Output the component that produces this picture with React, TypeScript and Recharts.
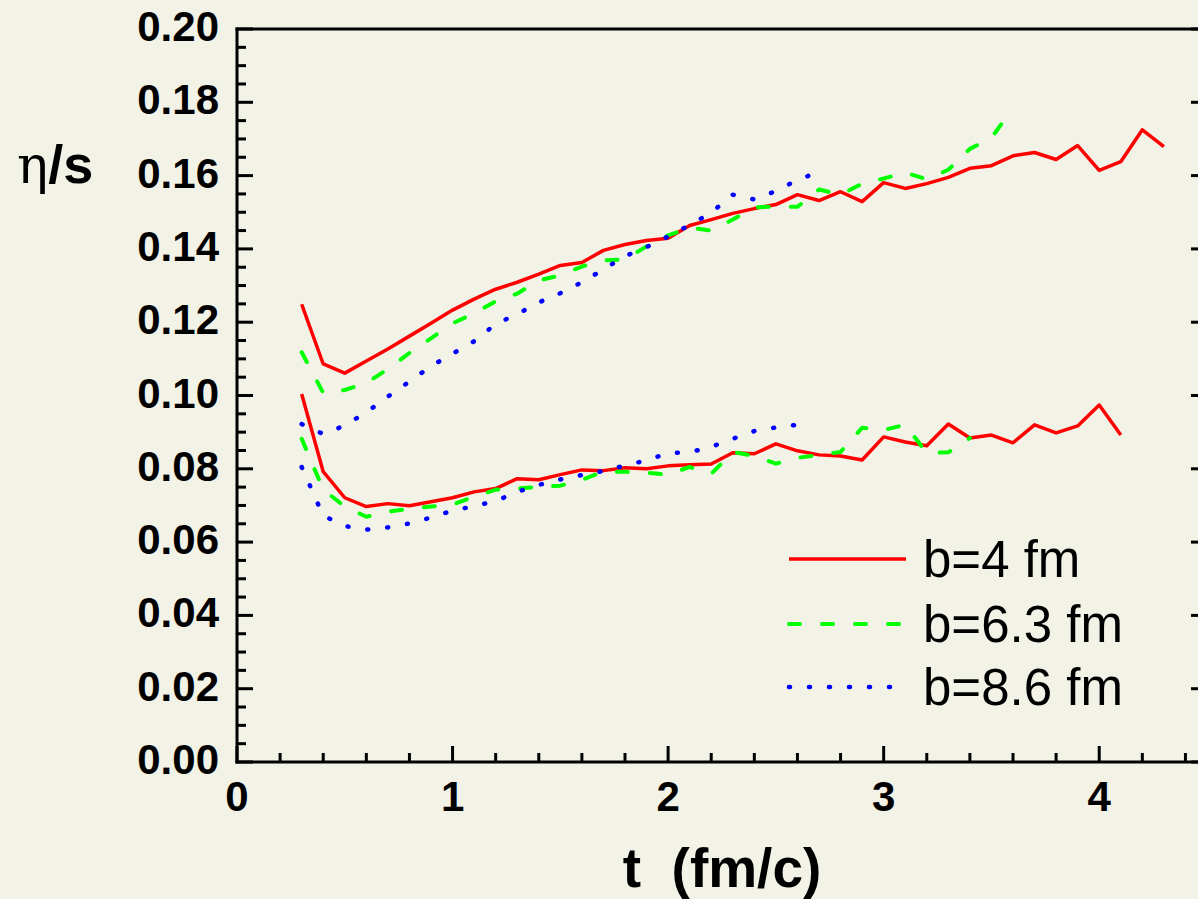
import React from 'react';
import { LineChart, Line, XAxis, YAxis } from 'recharts';

const BG = '#F2F2E6';
const SANS = '"Liberation Sans", Arial, Helvetica, sans-serif';

// time grid, fm/c
const times = [
  0.3, 0.4, 0.5, 0.6, 0.7, 0.8, 0.9, 1.0, 1.1, 1.2, 1.3, 1.4, 1.5, 1.6, 1.7, 1.8, 1.9, 2.0, 2.1, 2.2, 2.3,
  2.4, 2.5, 2.6, 2.7, 2.8, 2.9, 3.0, 3.1, 3.2, 3.3, 3.4, 3.5, 3.6, 3.7, 3.8, 3.9, 4.0, 4.1, 4.2, 4.3,
];

// b=4 fm
const redUpper = [
  0.1249, 0.1086, 0.1061, 0.1094, 0.1127, 0.1162, 0.1197, 0.1233, 0.1263, 0.129, 0.1309, 0.1331, 0.1355, 0.1363,
  0.1396, 0.1412, 0.1423, 0.1429, 0.1464, 0.148, 0.1497, 0.151, 0.1521, 0.1548, 0.1532, 0.1556, 0.1529, 0.1581,
  0.1565, 0.1578, 0.1595, 0.162, 0.1627, 0.1654, 0.1663, 0.1644, 0.1682, 0.1614, 0.1638, 0.1725, 0.1679,
];
const redLower = [
  0.1004, 0.0792, 0.0721, 0.0697, 0.0705, 0.0699, 0.071, 0.0721, 0.0737, 0.0746, 0.0773, 0.077, 0.0784, 0.0797,
  0.0795, 0.0803, 0.08, 0.0808, 0.0811, 0.0813, 0.0844, 0.0841, 0.0868, 0.0849, 0.0838, 0.0835, 0.0824, 0.0887,
  0.0873, 0.0863, 0.0922, 0.0884, 0.0892, 0.0871, 0.092, 0.0898, 0.0917, 0.0974, 0.0892,
];

// b=6.3 fm
const greenUpper = [
  0.1118, 0.1007, 0.1015, 0.1034, 0.1072, 0.1116, 0.1156, 0.1197, 0.1224, 0.1257, 0.1278, 0.1314, 0.1328, 0.1352,
  0.1369, 0.1371, 0.1407, 0.1437, 0.1458, 0.145, 0.148, 0.1513, 0.1516, 0.1515, 0.1562, 0.1548, 0.1578, 0.1592,
  0.1608, 0.159, 0.1616, 0.1673, 0.1703, 0.1785,
];
const greenLower = [
  0.0882, 0.0743, 0.0697, 0.0669, 0.0683, 0.0691, 0.0697, 0.0702, 0.0724, 0.0743, 0.0746, 0.0751, 0.0754, 0.077,
  0.0792, 0.0792, 0.0789, 0.0784, 0.0805, 0.0786, 0.0846, 0.0835, 0.0814, 0.083, 0.0838, 0.0846, 0.0912, 0.0906,
  0.092, 0.0843, 0.0845, 0.0884,
];

// b=8.6 fm
const blueUpper = [
  0.0922, 0.0895, 0.0918, 0.0954, 0.0997, 0.1038, 0.108, 0.1114, 0.1148, 0.1195, 0.1222, 0.1254, 0.1279, 0.1309,
  0.1344, 0.138, 0.1405, 0.1434, 0.1465, 0.1499, 0.1548, 0.1535, 0.1558, 0.1588, 0.161,
];
const blueLower = [
  0.0805, 0.0672, 0.0644, 0.0634, 0.064, 0.0651, 0.0667, 0.0686, 0.0698, 0.0712, 0.0737, 0.0756, 0.0771, 0.0783,
  0.0794, 0.0809, 0.0823, 0.0843, 0.0845, 0.086, 0.0882, 0.0903, 0.0913, 0.092,
];

const legendLabels = ['b=4 fm', 'b=6.3 fm', 'b=8.6 fm'];

// axis ticks (every 0.2 on t, every 0.005 on eta/s; labels only on majors)
const xTicks = Array.from({ length: 23 }, (_, i) => +(i * 0.2).toFixed(1));
const yTicks = Array.from({ length: 41 }, (_, i) => +(i * 0.005).toFixed(3));
const isMajorX = (v: number) => Math.abs(v - Math.round(v)) < 1e-6;
const isMajorY = (v: number) => Math.abs(v * 50 - Math.round(v * 50)) < 1e-6;

const toPoints = (vals: number[]) => vals.map((v, i) => ({ t: times[i], v }));

const TW = 3;
const MAJ = 16;
const MIN = 9;

function BottomTick(props: any) {
  const { x, y, payload } = props;
  const major = isMajorX(payload.value);
  return (
    <g>
      <line x1={x} x2={x} y1={y} y2={y - (major ? MAJ : MIN)} stroke="#000" strokeWidth={TW} />
      {major && (
        <text x={x} y={y + 49} textAnchor="middle" fontFamily={SANS} fontWeight="bold" fontSize={42} fill="#000">
          {payload.value}
        </text>
      )}
    </g>
  );
}

function TopTick(props: any) {
  const { x, y, payload } = props;
  const major = isMajorX(payload.value);
  return <line x1={x} x2={x} y1={y} y2={y + (major ? MAJ : MIN)} stroke="#000" strokeWidth={TW} />;
}

function LeftTick(props: any) {
  const { x, y, payload } = props;
  const major = isMajorY(payload.value);
  return (
    <g>
      <line x1={x} x2={x + (major ? MAJ : MIN)} y1={y} y2={y} stroke="#000" strokeWidth={TW} />
      {major && (
        <text x={x - 18} y={y + 12} textAnchor="end" fontFamily={SANS} fontWeight="bold" fontSize={42} fill="#000">
          {payload.value.toFixed(2)}
        </text>
      )}
    </g>
  );
}

function RightTick(props: any) {
  const { x, y, payload } = props;
  const major = isMajorY(payload.value);
  return <line x1={x} x2={x - (major ? MAJ : MIN)} y1={y} y2={y} stroke="#000" strokeWidth={TW} />;
}

const axisLine = { stroke: '#000', strokeWidth: 3, strokeLinecap: 'square' as const };

const red = { stroke: '#FF0000', strokeWidth: 3.5 };
const green = { stroke: '#00FF00', strokeWidth: 4, strokeDasharray: '11 22', strokeLinecap: 'round' as const };
const blue = { stroke: '#0000FF', strokeWidth: 4.5, strokeDasharray: '1 19', strokeLinecap: 'round' as const };

export default function App() {
  const series = [
    { key: 'ru', data: toPoints(redUpper), style: red },
    { key: 'rl', data: toPoints(redLower), style: red },
    { key: 'gu', data: toPoints(greenUpper), style: green },
    { key: 'gl', data: toPoints(greenLower), style: green },
    { key: 'bu', data: toPoints(blueUpper), style: blue },
    { key: 'bl', data: toPoints(blueLower), style: blue },
  ];
  const legendStyles = [red, green, blue];
  const legendY = [559, 624, 687];

  return (
    <div style={{ width: 1198, height: 899, overflow: 'hidden', background: BG }}>
      <style>{`body{margin:0;background:${BG};overflow:hidden}`}</style>
      <LineChart width={1220} height={899} margin={{ top: 0, right: 0, bottom: 0, left: 0 }}>
        <XAxis
          xAxisId="b"
          dataKey="t"
          type="number"
          domain={[0, 4.5]}
          allowDataOverflow
          ticks={xTicks}
          interval={0}
          height={137}
          tickSize={0}
          tickMargin={0}
          tickLine={false}
          axisLine={axisLine}
          tick={(p: any) => <BottomTick {...p} />}
        />
        <XAxis
          xAxisId="t"
          orientation="top"
          type="number"
          domain={[0, 4.5]}
          allowDataOverflow
          ticks={xTicks}
          interval={0}
          height={29}
          tickSize={0}
          tickMargin={0}
          tickLine={false}
          axisLine={axisLine}
          tick={(p: any) => <TopTick {...p} />}
        />
        <YAxis
          yAxisId="l"
          type="number"
          domain={[0, 0.2]}
          allowDataOverflow
          ticks={yTicks}
          interval={0}
          width={237}
          tickSize={0}
          tickMargin={0}
          tickLine={false}
          axisLine={axisLine}
          tick={(p: any) => <LeftTick {...p} />}
        />
        <YAxis
          yAxisId="r"
          orientation="right"
          type="number"
          domain={[0, 0.2]}
          allowDataOverflow
          ticks={yTicks}
          interval={0}
          width={13}
          tickSize={0}
          tickMargin={0}
          tickLine={false}
          axisLine={axisLine}
          tick={(p: any) => <RightTick {...p} />}
        />
        {series.map((s) => (
          <Line
            key={s.key}
            xAxisId="b"
            yAxisId="l"
            data={s.data}
            dataKey="v"
            type="linear"
            dot={false}
            activeDot={false}
            strokeLinejoin="round"
            isAnimationActive={false}
            {...s.style}
          />
        ))}
        <g>
          <text x={17} y={183} fill="#000">
            <tspan fontFamily='"DejaVu Serif", "Liberation Serif", serif' fontSize={52}>
              η
            </tspan>
            <tspan fontFamily={SANS} fontWeight="bold" fontSize={54}>
              /s
            </tspan>
          </text>
          <text
            x={722}
            y={887}
            textAnchor="middle"
            fontFamily={SANS}
            fontWeight="bold"
            fontSize={55}
            fill="#000"
            style={{ whiteSpace: 'pre' }}
          >
            {'t  (fm/c)'}
          </text>
          {legendLabels.map((label, i) => (
            <g key={label}>
              <line x1={789} x2={i === 2 ? 891 : 906} y1={legendY[i]} y2={legendY[i]} {...legendStyles[i]} />
              <text x={923} y={legendY[i] + 18} fontFamily={SANS} fontSize={51} fill="#000">
                {label}
              </text>
            </g>
          ))}
        </g>
      </LineChart>
    </div>
  );
}
